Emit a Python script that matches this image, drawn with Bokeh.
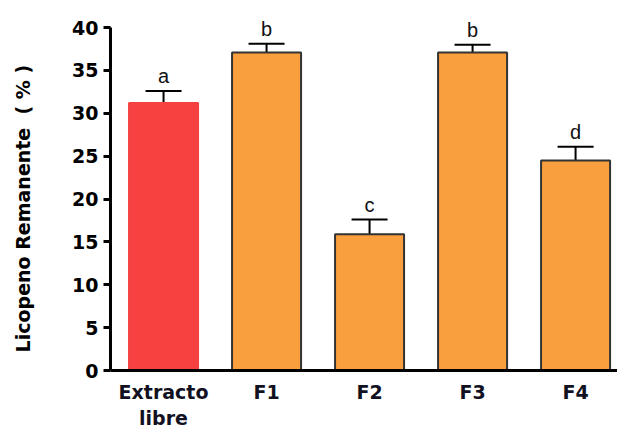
from bokeh.plotting import figure
from bokeh.models import ColumnDataSource, Range1d, FixedTicker, Whisker, TeeHead, LabelSet
from bokeh.core.properties import value
from bokeh.embed import file_html
from bokeh.resources import INLINE

categories = ["Extracto\nlibre", "F1", "F2", "F3", "F4"]
values = [31.2, 37.1, 15.9, 37.1, 24.5]
errors = [1.4, 1.0, 1.7, 0.9, 1.6]
letters = ["a", "b", "c", "b", "d"]
colors = ["#F74141", "#FA9F3D", "#FA9F3D", "#FA9F3D", "#FA9F3D"]
outline = ["#F74141", "#333333", "#333333", "#333333", "#333333"]
y_ticks = [0, 5, 10, 15, 20, 25, 30, 35, 40]

xs = list(range(len(categories)))
src = ColumnDataSource(dict(
    x=xs, top=values, color=colors, line=outline,
    upper=[v + e for v, e in zip(values, errors)],
    lower=[v - e for v, e in zip(values, errors)],
    letter=letters,
))

p = figure(width=617, height=431, output_backend="svg", toolbar_location=None,
           x_range=Range1d(-0.515, 4.407), y_range=Range1d(0, 43.15),
           min_border_left=110, min_border_right=0, min_border_top=0, min_border_bottom=61)
p.outline_line_color = None
p.xgrid.grid_line_color = None
p.ygrid.grid_line_color = None

p.vbar(x="x", top="top", width=0.67, bottom=0, fill_color="color", line_color="line",
       line_width=2, source=src)

w = Whisker(base="x", upper="upper", lower="lower", source=src, line_color="black", line_width=2,
            upper_head=TeeHead(size=36, line_width=2, line_color="black"),
            lower_head=TeeHead(size=36, line_width=2, line_color="black"))
p.add_layout(w)

lbl = LabelSet(x="x", y="upper", text="letter", source=src, text_align="center",
               text_baseline="bottom", y_offset=4, text_font_size="20px",
               text_font=value("Liberation Sans"), text_color="#111111")
p.add_layout(lbl)

FONT = "DejaVu Sans"
p.yaxis.ticker = FixedTicker(ticks=y_ticks)
p.yaxis.bounds = (0, 40)
p.yaxis.axis_line_width = 3
p.yaxis.major_tick_line_width = 3
p.yaxis.major_tick_out = 7
p.yaxis.major_tick_in = 0
p.yaxis.minor_tick_line_color = None
p.yaxis.major_label_text_font = FONT
p.yaxis.major_label_text_font_style = "bold"
p.yaxis.major_label_text_font_size = "19px"
p.yaxis.major_label_text_color = "black"
p.yaxis.major_label_standoff = 5
p.yaxis.axis_label = "Licopeno Remanente\u00a0\u00a0( % )" + "\u00a0" * 7
p.yaxis.axis_label_text_font = FONT
p.yaxis.axis_label_text_font_style = "bold"
p.yaxis.axis_label_text_font_size = "19px"
p.yaxis.axis_label_text_color = "black"
p.yaxis.axis_label_standoff = 35

p.xaxis.ticker = FixedTicker(ticks=xs)
p.xaxis.major_label_overrides = {i: c for i, c in zip(xs, categories)}
p.xaxis.axis_line_width = 3
p.xaxis.major_tick_out = 0
p.xaxis.major_tick_in = 0
p.xaxis.minor_tick_line_color = None
p.xaxis.major_label_text_font = FONT
p.xaxis.major_label_text_font_style = "bold"
p.xaxis.major_label_text_font_size = "19px"
p.xaxis.major_label_text_color = "#111122"
p.xaxis.major_label_standoff = 10

open("out.html", "w").write(file_html(p, INLINE))
